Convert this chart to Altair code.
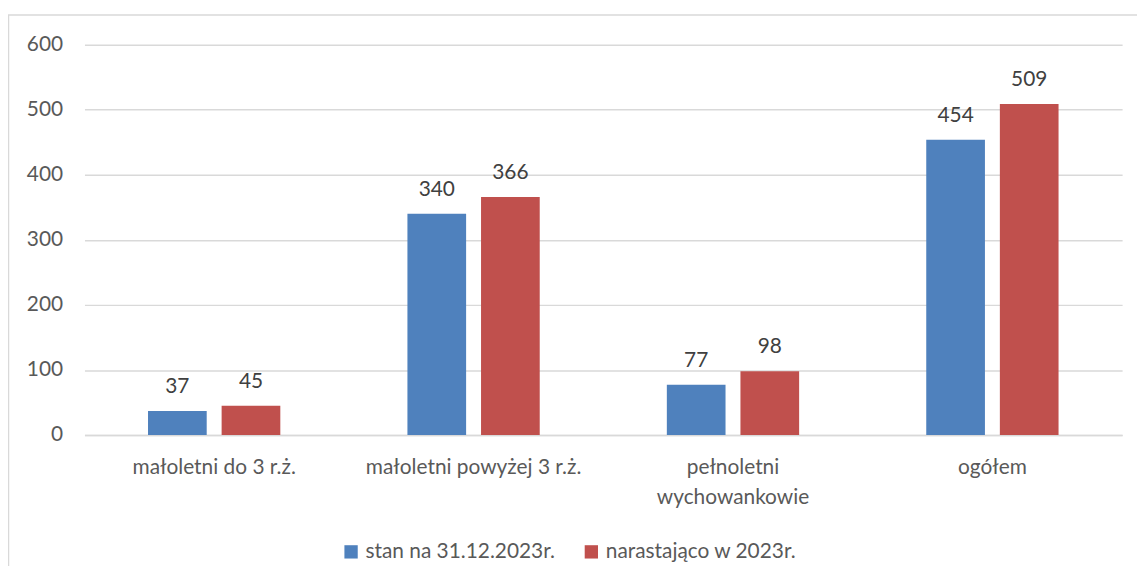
import altair as alt
import pandas as pd

categories = ["małoletni do 3 r.ż.", "małoletni powyżej 3 r.ż.", "pełnoletni wychowankowie", "ogółem"]
series_names = ["stan na 31.12.2023r.", "narastająco w 2023r."]
stan = [37, 340, 77, 454]
narastajaco = [45, 366, 98, 509]
y_ticks = [0, 100, 200, 300, 400, 500, 600]

rows = []
for c, a, b in zip(categories, stan, narastajaco):
    rows.append({"kategoria": c, "seria": series_names[0], "wartosc": a})
    rows.append({"kategoria": c, "seria": series_names[1], "wartosc": b})
df = pd.DataFrame(rows)

FONT = "Lato"
FS = 21
colors = ["#4f81bd", "#c0504d"]

x_enc = alt.X("kategoria:N", sort=categories, title=None,
              scale=alt.Scale(paddingInner=0.49, paddingOuter=0.245),
              axis=alt.Axis(labelAngle=0, labelFontSize=FS, labelColor="#595959", labelFont=FONT,
                            ticks=False, domain=True, domainColor="#d9d9d9", domainWidth=1.5,
                            labelPadding=22, labelLineHeight=30, labelLimit=400, grid=False,
                            labelExpr="datum.label == 'pełnoletni wychowankowie' ? ['pełnoletni', 'wychowankowie'] : datum.label"))
xo_enc = alt.XOffset("seria:N", sort=series_names,
                     scale=alt.Scale(paddingInner=0.2027, paddingOuter=0))
y_enc = alt.Y("wartosc:Q", title=None,
              scale=alt.Scale(domain=[0, 600], nice=False),
              axis=alt.Axis(values=y_ticks, labelFontSize=FS, labelColor="#595959", labelFont=FONT,
                            ticks=False, domain=False, gridColor="#d9d9d9", gridWidth=1.5,
                            labelPadding=22))

base = alt.Chart(df)
bars = base.mark_bar().encode(
    x=x_enc, xOffset=xo_enc, y=y_enc,
    color=alt.Color("seria:N", sort=series_names, title=None,
                    scale=alt.Scale(domain=series_names, range=colors),
                    legend=alt.Legend(orient="none", legendX=258, legendY=500, direction="horizontal",
                                      symbolType="square", symbolSize=180, symbolStrokeWidth=0,
                                      labelFontSize=FS, labelColor="#595959", labelFont=FONT,
                                      labelLimit=400, columnPadding=26, symbolOffset=0, labelOffset=4))
)
labels = base.mark_text(baseline="bottom", dy=-14, fontSize=FS, color="#404040", font=FONT).encode(
    x=x_enc, xOffset=xo_enc, y=y_enc, text="wartosc:Q")

frame_df = pd.DataFrame({"a": [0]})
top_line = alt.Chart(frame_df).mark_rule(color="#d9d9d9", strokeWidth=1.5).encode(
    x=alt.value(-77), x2=alt.value(1060), y=alt.value(-30))
left_line = alt.Chart(frame_df).mark_rule(color="#d9d9d9", strokeWidth=1.5).encode(
    x=alt.value(-76.5), y=alt.value(-30), y2=alt.value(560))

chart = alt.layer(top_line, left_line, bars, labels).properties(
    width=1045, height=393,
    background="white",
    autosize=alt.AutoSizeParams(type="none"),
    padding={"left": 77, "top": 35, "right": 15, "bottom": 130},
).configure_view(strokeWidth=0, stroke="transparent")

chart.save("out.html", embed_options={"renderer": "svg", "actions": False})
